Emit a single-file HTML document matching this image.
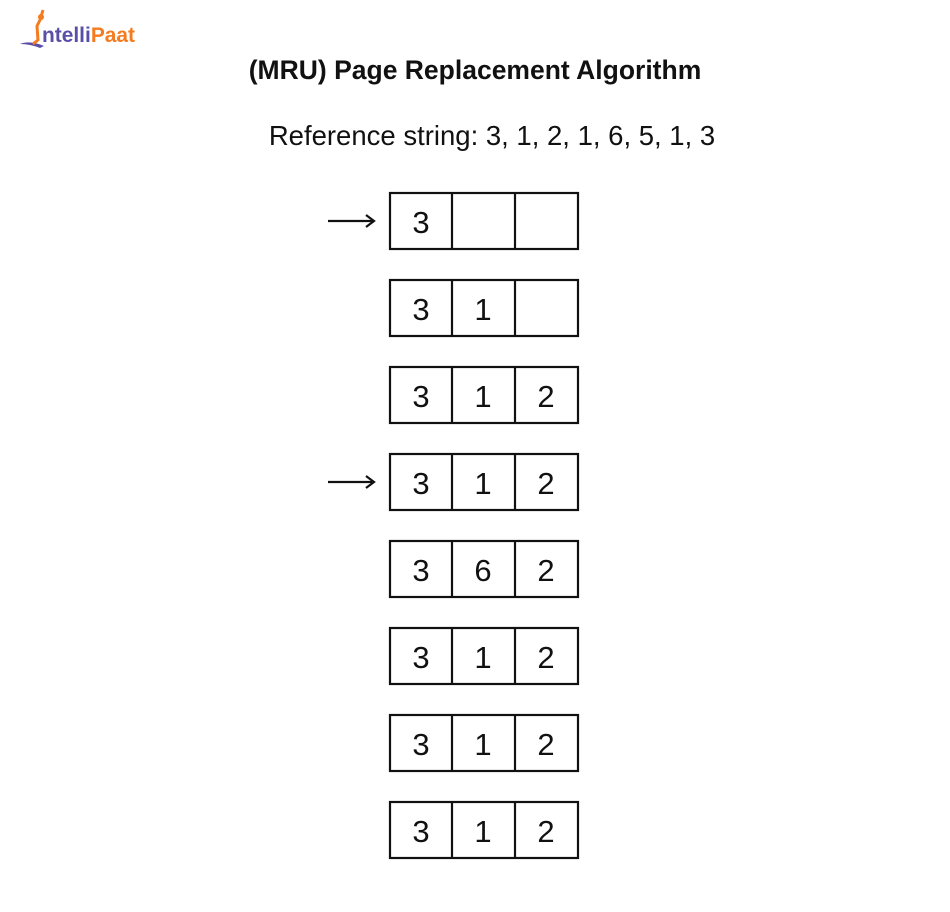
<!DOCTYPE html>
<html><head><meta charset="utf-8"><style>
html,body{margin:0;padding:0;background:#fff;}
</style></head><body>
<svg width="950" height="907" viewBox="0 0 950 907" xmlns="http://www.w3.org/2000/svg" font-family="Liberation Sans, sans-serif">
<rect width="950" height="907" fill="#fff"/>
<g>
<path d="M20 44 Q30 40 44 46 L40 48 Q30 44 20 44Z" fill="#5a4fa8"/>
<circle cx="41" cy="17" r="3" fill="#f47b20"/>
<path d="M43 10 L40 20 L37 26 L38 40 L33 44" stroke="#f47b20" stroke-width="3" fill="none"/>
<text x="42" y="42" font-size="21" font-weight="bold" fill="#5a4fa8" textLength="93" lengthAdjust="spacingAndGlyphs">ntelli<tspan fill="#f47b20">Paat</tspan></text>
</g>
<text x="475" y="79" font-size="26.5" font-weight="bold" text-anchor="middle" fill="#111">(MRU) Page Replacement Algorithm</text>
<text x="492" y="145" font-size="27.5" text-anchor="middle" fill="#111">Reference string: 3, 1, 2, 1, 6, 5, 1, 3</text>
<g stroke="#111" stroke-width="2.2" fill="none">
<line x1="328" y1="221" x2="373" y2="221"/><path d="M366 215 L374 221 L366 227"/>
<line x1="328" y1="482" x2="373" y2="482"/><path d="M366 476 L374 482 L366 488"/>
</g>
<g stroke="#111" stroke-width="2.2" fill="none">
<rect x="390" y="193" width="188" height="56"/><line x1="452" y1="193" x2="452" y2="249"/><line x1="515" y1="193" x2="515" y2="249"/>
<rect x="390" y="280" width="188" height="56"/><line x1="452" y1="280" x2="452" y2="336"/><line x1="515" y1="280" x2="515" y2="336"/>
<rect x="390" y="367" width="188" height="56"/><line x1="452" y1="367" x2="452" y2="423"/><line x1="515" y1="367" x2="515" y2="423"/>
<rect x="390" y="454" width="188" height="56"/><line x1="452" y1="454" x2="452" y2="510"/><line x1="515" y1="454" x2="515" y2="510"/>
<rect x="390" y="541" width="188" height="56"/><line x1="452" y1="541" x2="452" y2="597"/><line x1="515" y1="541" x2="515" y2="597"/>
<rect x="390" y="628" width="188" height="56"/><line x1="452" y1="628" x2="452" y2="684"/><line x1="515" y1="628" x2="515" y2="684"/>
<rect x="390" y="715" width="188" height="56"/><line x1="452" y1="715" x2="452" y2="771"/><line x1="515" y1="715" x2="515" y2="771"/>
<rect x="390" y="802" width="188" height="56"/><line x1="452" y1="802" x2="452" y2="858"/><line x1="515" y1="802" x2="515" y2="858"/>
</g>
<g font-size="31" text-anchor="middle" fill="#111">
<text x="421" y="233">3</text>
<text x="421" y="320">3</text><text x="483" y="320">1</text>
<text x="421" y="407">3</text><text x="483" y="407">1</text><text x="546" y="407">2</text>
<text x="421" y="494">3</text><text x="483" y="494">1</text><text x="546" y="494">2</text>
<text x="421" y="581">3</text><text x="483" y="581">6</text><text x="546" y="581">2</text>
<text x="421" y="668">3</text><text x="483" y="668">1</text><text x="546" y="668">2</text>
<text x="421" y="755">3</text><text x="483" y="755">1</text><text x="546" y="755">2</text>
<text x="421" y="842">3</text><text x="483" y="842">1</text><text x="546" y="842">2</text>
</g>
</svg>
</body></html>
